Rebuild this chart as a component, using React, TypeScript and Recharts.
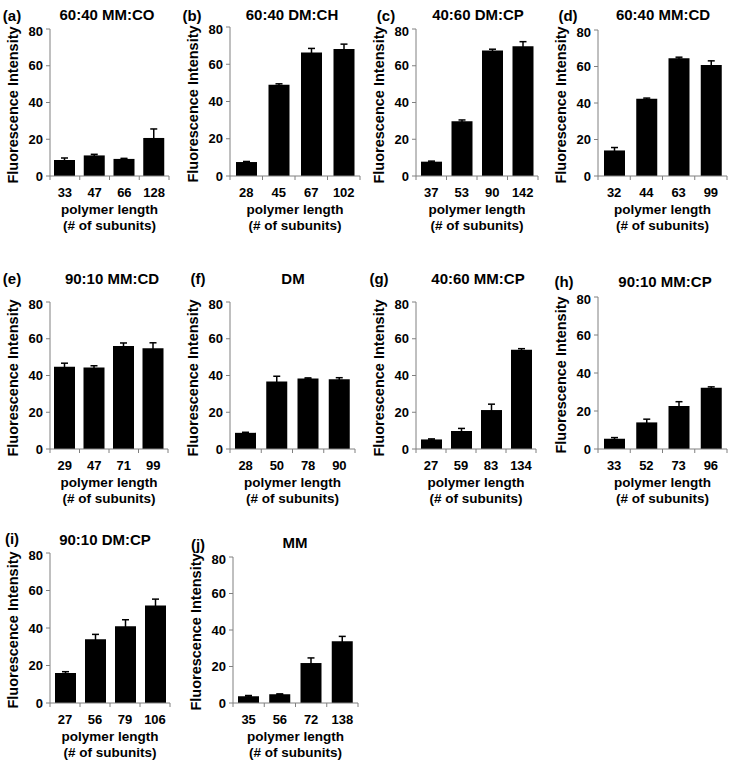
import { Bar, BarChart, ErrorBar, XAxis, YAxis } from "recharts";

// polymer lengths (x categories), mean intensities and error bars, per panel
const lengthsA = ["33", "47", "66", "128"];
const valuesA = [8.7, 11.2, 9.3, 20.7];
const errorsA = [1.1, 0.6, 0.3, 4.9];

const lengthsB = ["28", "45", "67", "102"];
const valuesB = [7.5, 49.0, 66.3, 68.2];
const errorsB = [0.3, 0.5, 2.2, 2.6];

const lengthsC = ["37", "53", "90", "142"];
const valuesC = [7.8, 29.8, 68.3, 70.6];
const errorsC = [0.3, 0.7, 0.7, 2.5];

const lengthsD = ["32", "44", "63", "99"];
const valuesD = [14.0, 42.3, 64.5, 60.8];
const errorsD = [1.6, 0.4, 0.6, 2.3];

const lengthsE = ["29", "47", "71", "99"];
const valuesE = [44.7, 44.3, 56.0, 54.8];
const errorsE = [2.0, 1.0, 1.7, 3.0];

const lengthsF = ["28", "50", "78", "90"];
const valuesF = [8.8, 36.7, 38.4, 38.0];
const errorsF = [0.3, 2.9, 0.3, 0.8];

const lengthsG = ["27", "59", "83", "134"];
const valuesG = [5.2, 9.8, 21.2, 54.0];
const errorsG = [0.3, 1.4, 3.2, 0.6];

const lengthsH = ["33", "52", "73", "96"];
const valuesH = [5.4, 14.0, 22.6, 32.2];
const errorsH = [0.6, 1.7, 2.3, 0.5];

const lengthsI = ["27", "56", "79", "106"];
const valuesI = [16.0, 34.0, 41.0, 52.0];
const errorsI = [0.7, 2.6, 3.4, 3.4];

const lengthsJ = ["35", "56", "72", "138"];
const valuesJ = [3.7, 4.8, 21.9, 33.8];
const errorsJ = [0.4, 0.2, 2.8, 2.7];

const yTicks = [0, 20, 40, 60, 80];

const FONT = '"Liberation Sans", Arial, sans-serif';
const AXIS = "#808080";

const toRows = (names: string[], values: number[], errors: number[]) =>
  names.map((name, i) => ({ name, value: values[i], err: errors[i] }));

// plot rect (L,T,R,B) + title / panel-letter placement
const panels = [
  { tag: "(a)", title: "60:40 MM:CO", rows: toRows(lengthsA, valuesA, errorsA), L: 50, T: 29, R: 169, B: 176, tx: 107, ty: 14, lx: 2, ly: 15 },
  { tag: "(b)", title: "60:40 DM:CH", rows: toRows(lengthsB, valuesB, errorsB), L: 230, T: 27, R: 360, B: 176, tx: 292, ty: 14, lx: 182, ly: 15 },
  { tag: "(c)", title: "40:60 DM:CP", rows: toRows(lengthsC, valuesC, errorsC), L: 416, T: 29, R: 538, B: 176, tx: 478, ty: 14, lx: 376, ly: 15 },
  { tag: "(d)", title: "60:40 MM:CD", rows: toRows(lengthsD, valuesD, errorsD), L: 598, T: 30, R: 727, B: 176, tx: 663, ty: 14, lx: 558, ly: 15 },
  { tag: "(e)", title: "90:10 MM:CD", rows: toRows(lengthsE, valuesE, errorsE), L: 50, T: 302, R: 168, B: 449, tx: 112, ty: 278, lx: 2, ly: 278 },
  { tag: "(f)", title: "DM", rows: toRows(lengthsF, valuesF, errorsF), L: 230, T: 302, R: 355, B: 449, tx: 293, ty: 278, lx: 188, ly: 278 },
  { tag: "(g)", title: "40:60 MM:CP", rows: toRows(lengthsG, valuesG, errorsG), L: 416, T: 302, R: 536, B: 449, tx: 478, ty: 278, lx: 369, ly: 278 },
  { tag: "(h)", title: "90:10 MM:CP", rows: toRows(lengthsH, valuesH, errorsH), L: 598, T: 297, R: 727, B: 449, tx: 665, ty: 281, lx: 554, ly: 281 },
  { tag: "(i)", title: "90:10 DM:CP", rows: toRows(lengthsI, valuesI, errorsI), L: 50, T: 553, R: 170, B: 703, tx: 105, ty: 539, lx: 2, ly: 538 },
  { tag: "(j)", title: "MM", rows: toRows(lengthsJ, valuesJ, errorsJ), L: 233, T: 557, R: 358, B: 703, tx: 295, ty: 542, lx: 188, ly: 544 },
];

const Txt = ({ x, y, size, children, rotate = false }: any) => (
  <div
    style={{
      position: "absolute",
      left: x,
      top: y,
      transform: `translate(-50%, -50%)${rotate ? " rotate(-90deg)" : ""}`,
      fontFamily: FONT,
      fontWeight: 700,
      fontSize: size,
      lineHeight: 1,
      whiteSpace: "nowrap",
      color: "#000",
    }}
  >
    {children}
  </div>
);

const XTick = (props: any) => {
  const { x, y, payload, index, band } = props;
  return (
    <g>
      <line x1={x - band / 2} x2={x - band / 2} y1={y} y2={y + 4} stroke={AXIS} />
      {index === 3 && <line x1={x + band / 2} x2={x + band / 2} y1={y} y2={y + 4} stroke={AXIS} />}
      <text x={x} y={y + 21} textAnchor="middle" fontFamily={FONT} fontWeight={700} fontSize={13} fill="#000">
        {payload.value}
      </text>
    </g>
  );
};

function Panel({ p }: any) {
  const padL = 40;
  const padT = 6;
  const padR = 4;
  const axisH = 26;
  const w = p.R - p.L + padL + padR;
  const h = p.B - p.T + padT + axisH;
  const band = (p.R - p.L) / p.rows.length;
  const cx = (p.L + p.R) / 2;
  return (
    <>
      <Txt x={p.lx + 10} y={p.ly} size={15}>{p.tag}</Txt>
      <Txt x={p.tx} y={p.ty} size={15}>{p.title}</Txt>
      <Txt x={p.L - 37} y={(p.T + p.B) / 2 + 2} size={14.5} rotate>
        Fluorescence Intensity
      </Txt>
      <Txt x={cx} y={p.B + 34} size={13.5}>polymer length</Txt>
      <Txt x={cx} y={p.B + 50} size={13.5}>(# of subunits)</Txt>
      <div style={{ position: "absolute", left: p.L - padL, top: p.T - padT }}>
        <BarChart
          width={w}
          height={h}
          data={p.rows}
          margin={{ top: padT, right: padR, left: 0, bottom: 0 }}
          barSize={21}
        >
          <XAxis
            dataKey="name"
            height={axisH}
            interval={0}
            tickLine={false}
            tickSize={0}
            tickMargin={0}
            axisLine={{ stroke: AXIS }}
            tick={(t: any) => <XTick {...t} band={band} />}
          />
          <YAxis
            width={padL}
            domain={[0, 80]}
            ticks={yTicks}
            tickSize={4}
            tickMargin={3}
            axisLine={{ stroke: AXIS }}
            tickLine={{ stroke: AXIS }}
            tick={{ fill: "#000", fontSize: 13, fontWeight: 700, fontFamily: FONT }}
          />
          <Bar dataKey="value" fill="#000" isAnimationActive={false}>
            <ErrorBar dataKey="err" width={3.5} stroke="#000" strokeWidth={1.5} direction="y" isAnimationActive={false} />
          </Bar>
        </BarChart>
      </div>
    </>
  );
}

export default function App() {
  return (
    <div style={{ position: "absolute", left: 0, top: 0, width: 729, height: 763, background: "#fff" }}>
      {panels.map((p) => (
        <Panel key={p.tag} p={p} />
      ))}
    </div>
  );
}
